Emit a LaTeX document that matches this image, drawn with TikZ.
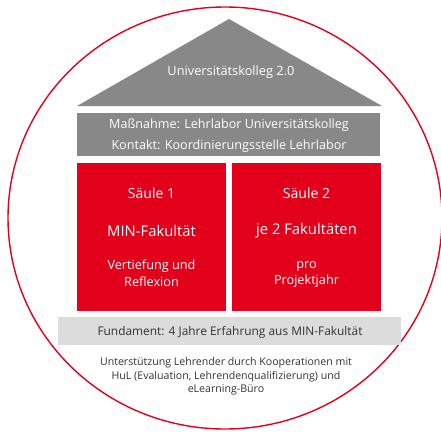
\documentclass[tikz,border=0pt]{standalone}
\usepackage{fontspec}
\setmainfont{Open Sans}
\definecolor{uhhred}{HTML}{E2001A}
\definecolor{roofgray}{HTML}{888888}
\definecolor{basegray}{HTML}{DCDCDC}
\definecolor{textdark}{HTML}{333333}
\begin{document}
\begin{tikzpicture}[x=1pt,y=-1pt,
  lbl/.style={inner sep=0pt,align=center,font=#1},
  whitetxt/.style={text=white},
  darktxt/.style={text=textdark},
  pillar/.style={fill=uhhred,draw=none},
  ring/.style={draw=uhhred,line width=1.4pt}]
\useasboundingbox (0,0) rectangle (441,431);
\fill[white] (0,0) rectangle (441,431);
% outer ring
\draw[ring] (225,218) ellipse [x radius=217, y radius=211];
% roof
\coordinate (apex) at (229,19);
\coordinate (roofL) at (77,106);
\coordinate (roofR) at (382,106);
\fill[roofgray] (roofL) -- (apex) -- (roofR) -- cycle;
\node[lbl={\fontsize{12.8}{14}\selectfont},whitetxt] (roof) at (231,72) {Universitätskolleg 2.0};
% bar
\fill[roofgray] (77,113) rectangle (380,156);
\node[lbl={\fontsize{12.6}{14}\selectfont},whitetxt] (mass) at (229,125) {Maßnahme: Lehrlabor Universitätskolleg};
\node[lbl={\fontsize{12.6}{14}\selectfont},whitetxt] (kontakt) at (229,146) {Kontakt: Koordinierungsstelle Lehrlabor};
% pillars
\fill[pillar] (77,163) rectangle (226,311);
\fill[pillar] (232,163) rectangle (381,311);
\node[lbl={\fontsize{14}{16}\selectfont},whitetxt] (s1) at (151.5,193) {Säule 1};
\node[lbl={\fontsize{14.8}{17}\selectfont},whitetxt] (s1b) at (151.5,231) {MIN-Fakultät};
\node[lbl={\fontsize{12.7}{17}\selectfont},whitetxt] (s1c) at (151.5,273.5) {Vertiefung und\\Reflexion};
\node[lbl={\fontsize{14}{16}\selectfont},whitetxt] (s2) at (306.5,193) {Säule 2};
\node[lbl={\fontsize{14.8}{17}\selectfont},whitetxt] (s2b) at (306.5,231) {je 2 Fakultäten};
\node[lbl={\fontsize{12.7}{16}\selectfont},whitetxt] (s2c) at (306.5,275) {pro\\Projektjahr};
% foundation
\fill[basegray] (58,317) rectangle (401,345);
\node[lbl={\fontsize{11.9}{13}\selectfont},darktxt] (fund) at (230,332) {Fundament: 4 Jahre Erfahrung aus MIN-Fakultät};
% support text
\node[lbl={\fontsize{10.6}{13.5}\selectfont},darktxt] (support) at (226,376.5) {Unterstützung Lehrender durch Kooperationen mit\\HuL (Evaluation, Lehrendenqualifizierung) und\\eLearning-Büro};
\end{tikzpicture}
\end{document}
